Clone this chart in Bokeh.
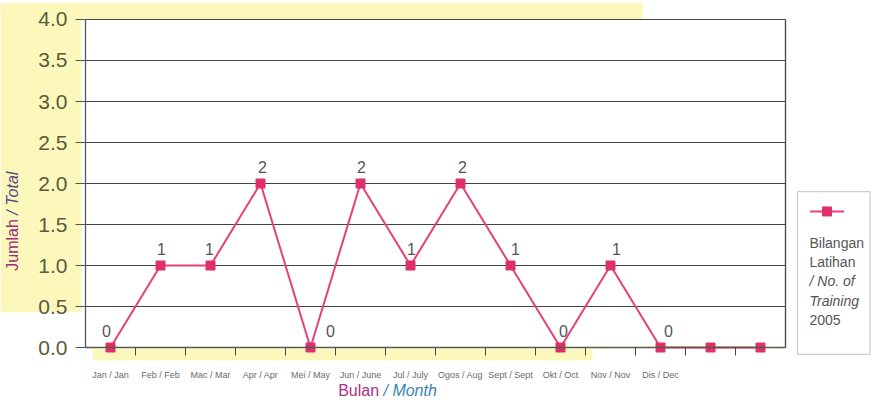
import math
from bokeh.plotting import figure
from bokeh.models import Range1d, FixedTicker, Label, LinearAxis, BoxAnnotation, ColumnDataSource
from bokeh.embed import file_html
from bokeh.resources import INLINE
from bokeh.core.properties import value

# ---------------- data ----------------
months = ["Jan / Jan", "Feb / Feb", "Mac / Mar", "Apr / Apr", "Mei / May", "Jun / June",
          "Jul / July", "Ogos / Aug", "Sept / Sept", "Okt / Oct", "Nov / Nov", "Dis / Dec", "", ""]
values = [0, 1, 1, 2, 0, 2, 1, 2, 1, 0, 1, 0, 0, 0]
point_labels = ["0", "1", "1", "2", "0", "2", "1", "2", "1", "0", "1", "0", "", ""]
y_ticks = [0.0, 0.5, 1.0, 1.5, 2.0, 2.5, 3.0, 3.5, 4.0]
y_tick_labels = ["0.0", "0.5", "1.0", "1.5", "2.0", "2.5", "3.0", "3.5", "4.0"]
series_lines = ["Bilangan", "Latihan", "/ No. of", "Training", "2005"]
series_styles = ["normal", "normal", "italic", "italic", "normal"]
y_title = ["Jumlah ", "/ Total"]
x_title = ["Bulan ", "/ Month"]

# ---------------- styling / layout ----------------
FONT = "Liberation Sans"
PINK = "#e6407a"
MARK = "#e0306c"
GRID = "#444444"
TICKC = "#5a5a3c"
YELLOW = "#fcf8bc"

n = len(months)
xs = list(range(1, n + 1))
x_lo, x_hi = 0.5, n + 0.5
y_lo, y_hi = y_ticks[0], y_ticks[-1]

p = figure(width=871, height=402, x_range=Range1d(-1.2, 16.22), y_range=Range1d(-0.6707, 4.2317),
           x_axis_location=None, y_axis_location=None,
           output_backend="svg", toolbar_location=None,
           min_border_left=0, min_border_right=0, min_border_top=0, min_border_bottom=0)
p.outline_line_color = None
p.grid.visible = False
p.background_fill_color = "white"
p.border_fill_color = "white"

# pale yellow paper tint (scan background)
for l, r, b, t in [(-1.2, 11.64, y_hi, 4.2), (-1.2, 0.42, 0.43, 4.2), (0.64, 10.64, -0.16, -0.02)]:
    p.add_layout(BoxAnnotation(left=l, right=r, bottom=b, top=t, fill_color=YELLOW, fill_alpha=1.0,
                               line_color=None, level="underlay"))

# horizontal grid lines and right border
p.segment(x0=x_lo, y0=y_ticks, x1=x_hi, y1=y_ticks, line_color=GRID, line_width=1.2)
p.segment(x0=[x_hi], y0=[y_lo], x1=[x_hi], y1=[y_hi], line_color="#444444", line_width=1.3)

# y axis
yaxis = LinearAxis(fixed_location=x_lo, bounds=(y_lo, y_hi), ticker=FixedTicker(ticks=y_ticks))
yaxis.major_label_overrides = {t: l for t, l in zip(y_ticks, y_tick_labels)}
yaxis.minor_tick_line_color = None
yaxis.major_tick_out = 10
yaxis.major_tick_in = 0
yaxis.major_tick_line_color = "#555555"
yaxis.axis_line_color = "#555555"
yaxis.axis_line_width = 1.3
yaxis.major_label_standoff = 8
yaxis.major_label_text_font = FONT
yaxis.major_label_text_font_size = "21px"
yaxis.major_label_text_color = TICKC
p.add_layout(yaxis, "left")

# x axis
xaxis = LinearAxis(fixed_location=y_lo, bounds=(x_lo, x_hi),
                   ticker=FixedTicker(ticks=xs, minor_ticks=[x + 0.5 for x in xs[:-1]]))
xaxis.major_label_overrides = {x: m for x, m in zip(xs, months)}
xaxis.major_tick_line_color = None
xaxis.major_tick_out = 8
xaxis.minor_tick_out = 8
xaxis.minor_tick_in = 0
xaxis.minor_tick_line_color = "#444444"
xaxis.axis_line_color = "#5a5a3c"
xaxis.axis_line_width = 1.5
xaxis.major_label_standoff = 14
xaxis.major_label_text_font = FONT
xaxis.major_label_text_font_size = "9px"
xaxis.major_label_text_color = "#6a6a6a"
p.add_layout(xaxis, "below")

# series
src = ColumnDataSource(dict(x=xs, y=values))
p.line("x", "y", source=src, line_color=PINK, line_width=2)
p.scatter("x", "y", source=src, marker="square", size=9, fill_color=MARK, line_color=MARK)

label_dx = [-4, 1, -1, 2, 20, 1, 1, 2, 5, 3, 6, 8, 0, 0]
lsrc = ColumnDataSource(dict(x=xs, y=values, t=point_labels, dx=label_dx))
p.text("x", "y", text="t", source=lsrc, x_offset="dx", y_offset=-17,
       text_font=value(FONT), text_font_size="16px", text_color="#555555",
       text_align="center", text_baseline="middle")

# axis titles (mixed style)
p.add_layout(Label(x=-0.96, y=1.62, text=y_title[0], angle=math.pi / 2, text_align="right",
                   text_baseline="middle", text_font=FONT, text_font_size="16px",
                   text_color="#9a2e86"))
p.add_layout(Label(x=-0.96, y=1.62, text=y_title[1], angle=math.pi / 2, text_align="left",
                   text_baseline="middle", text_font=FONT, text_font_size="16px",
                   text_font_style="italic", text_color="#5a4a8c"))
p.add_layout(Label(x=6.46, y=-0.53, text=x_title[0], text_align="right",
                   text_baseline="middle", text_font=FONT, text_font_size="16px",
                   text_color="#a82f80"))
p.add_layout(Label(x=6.46, y=-0.53, text=x_title[1], text_align="left",
                   text_baseline="middle", text_font=FONT, text_font_size="16px",
                   text_font_style="italic", text_color="#3c84b0"))

# legend box
p.add_layout(BoxAnnotation(left=14.74, right=16.19, bottom=-0.085, top=1.902, fill_color="white",
                           fill_alpha=1.0, line_color="#555555", line_width=1.2, level="underlay"))
p.line([14.99, 15.67], [1.659, 1.659], line_color=PINK, line_width=2)
p.scatter([15.33], [1.659], marker="square", size=9, fill_color=MARK, line_color=MARK)
tsrc = ColumnDataSource(dict(x=[14.98] * 5, y=[1.28, 1.037, 0.817, 0.573, 0.341],
                             t=series_lines, s=series_styles))
p.text("x", "y", text="t", source=tsrc, text_font_style="s",
       text_font=value(FONT), text_font_size="14px", text_color="#555555",
       text_align="left", text_baseline="middle")

open("out.html", "w").write(file_html(p, INLINE))
